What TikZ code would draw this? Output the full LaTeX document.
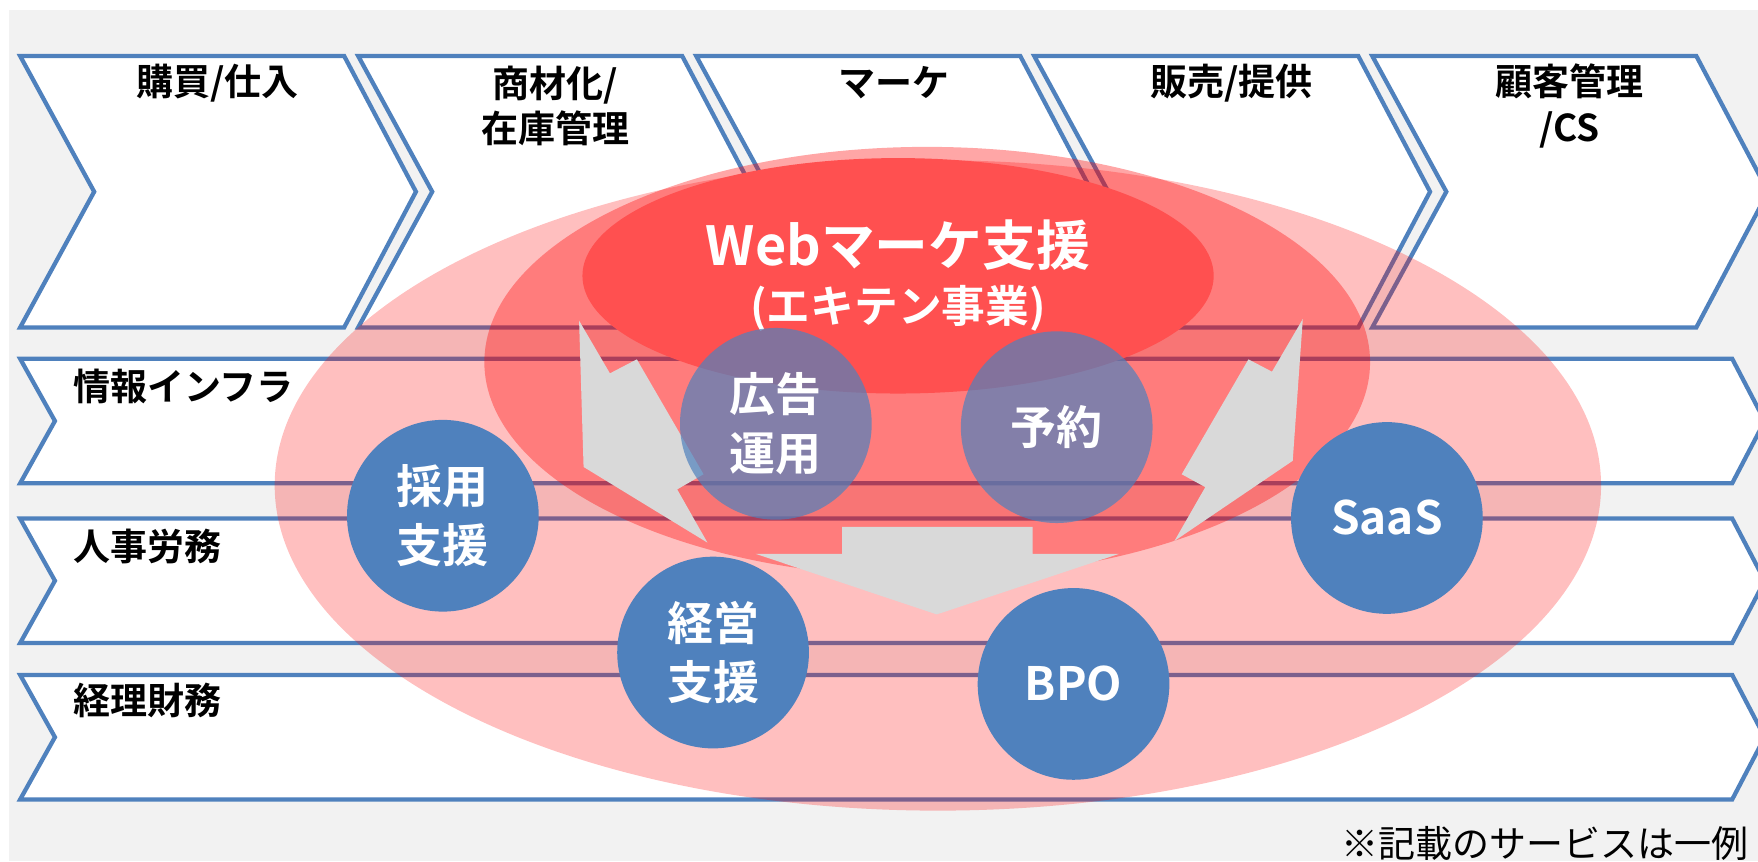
\documentclass[tikz,border=0pt]{standalone}
\usepackage{fontspec}
\setmainfont{Noto Sans CJK JP}[BoldFont={Noto Sans CJK JP Bold}]
\usetikzlibrary{shapes.geometric}
\definecolor{cblue}{HTML}{4F81BD}
\definecolor{cgray}{HTML}{D9D9D9}
\definecolor{cred}{HTML}{FF5050}
\definecolor{cback}{HTML}{F2F2F2}

\begin{document}
\begin{tikzpicture}[x=1pt,y=-1pt]
    \tikzstyle{flowbox}=[draw=cblue,line width=3.8pt,fill=white]
    \tikzstyle{stagelabel}=[font=\bfseries\fontsize{33}{41}\selectfont,align=center,inner sep=0pt]
    \tikzstyle{rowlabel}=[font=\bfseries\fontsize{33}{41}\selectfont,anchor=west,inner sep=0pt]
    \tikzstyle{bigarrow}=[fill=cgray]
    \tikzstyle{svc}=[circle,fill=cblue,minimum size=171pt,inner sep=0pt,text=white,align=center,font=\bfseries\fontsize{41}{53}\selectfont]
    \tikzstyle{svcweb}=[svc,fill opacity=0.7,text opacity=1]
    \tikzstyle{webzone}=[ellipse,fill=cred,minimum width=563pt,minimum height=210pt,inner sep=0pt,text=white,align=center,font=\bfseries\fontsize{39}{51}\selectfont]
    \useasboundingbox (0,0) rectangle (1568,768);
    \fill[white] (0,0) rectangle (1568,768);
    \fill[cback] (8,9) rectangle (1568,768);
    \foreach \x in {18,319.5,621,922.5,1224}
      \draw[flowbox] (\x,50) -- ++(289,0) -- ++(64,121) -- ++(-64,121) -- ++(-289,0) -- ++(66,-121) -- cycle;
    \foreach \y in {320,462.5,602}
      \draw[flowbox] (18,\y) -- (1545,\y) -- (1574,\y+55.5) -- (1545,\y+111) -- (18,\y+111) -- (49,\y+55.5) -- cycle;
    \fill[red,opacity=0.25] (836.5,433) ellipse [x radius=591.5pt,y radius=290pt];
    \fill[red,opacity=0.35] (827,323) ellipse [x radius=395pt,y radius=192pt];
    \node[webzone] (web) at (801,246) {{\fontsize{48}{51}\selectfont Webマーケ支援}\\(エキテン事業)};
    \fill[bigarrow] (516.5,286) -- (544,333) -- (568,320.5) -- (627.5,423) -- (604,436.5) -- (631,484) -- (520.5,416.5) -- cycle;
    \fill[bigarrow] (1162,284.5) -- (1134.5,331.5) -- (1113.5,320.5) -- (1054,423) -- (1075,434.5) -- (1047.5,482.5) -- (1153,411) -- cycle;
    \fill[bigarrow] (751,470) -- (921,470) -- (921,494) -- (998,494) -- (835.5,548) -- (674,494) -- (751,494) -- cycle;
    \node[svcweb] (ads) at (692,378) {広告\\運用};
    \node[svcweb] (booking) at (942.5,381) {予約};
    \node[svc] (hiring) at (395,460) {採用\\支援};
    \node[svc] (mgmt) at (636,582) {経営\\支援};
    \node[svc] (bpo) at (957.5,610) {BPO};
    \node[svc] (saas) at (1237,462) {SaaS};
    \node[stagelabel] (buy) at (194,74) {購買/仕入};
    \node[stagelabel] (stock) at (495.5,94.5) {商材化/\\在庫管理};
    \node[stagelabel] (mkt) at (797,74) {マーケ};
    \node[stagelabel] (sales) at (1098.5,74) {販売/提供};
    \node[stagelabel] (cs) at (1400,94.5) {顧客管理\\/CS};
    \node[rowlabel] (infra) at (65,345) {情報インフラ};
    \node[rowlabel] (hr) at (65,487) {人事労務};
    \node[rowlabel] (acct) at (65,625) {経理財務};
    \node[anchor=east,inner sep=0pt,font=\fontsize{33}{40}\selectfont] (note) at (1560,752) {※記載のサービスは一例};
  \end{tikzpicture}
\end{document}
